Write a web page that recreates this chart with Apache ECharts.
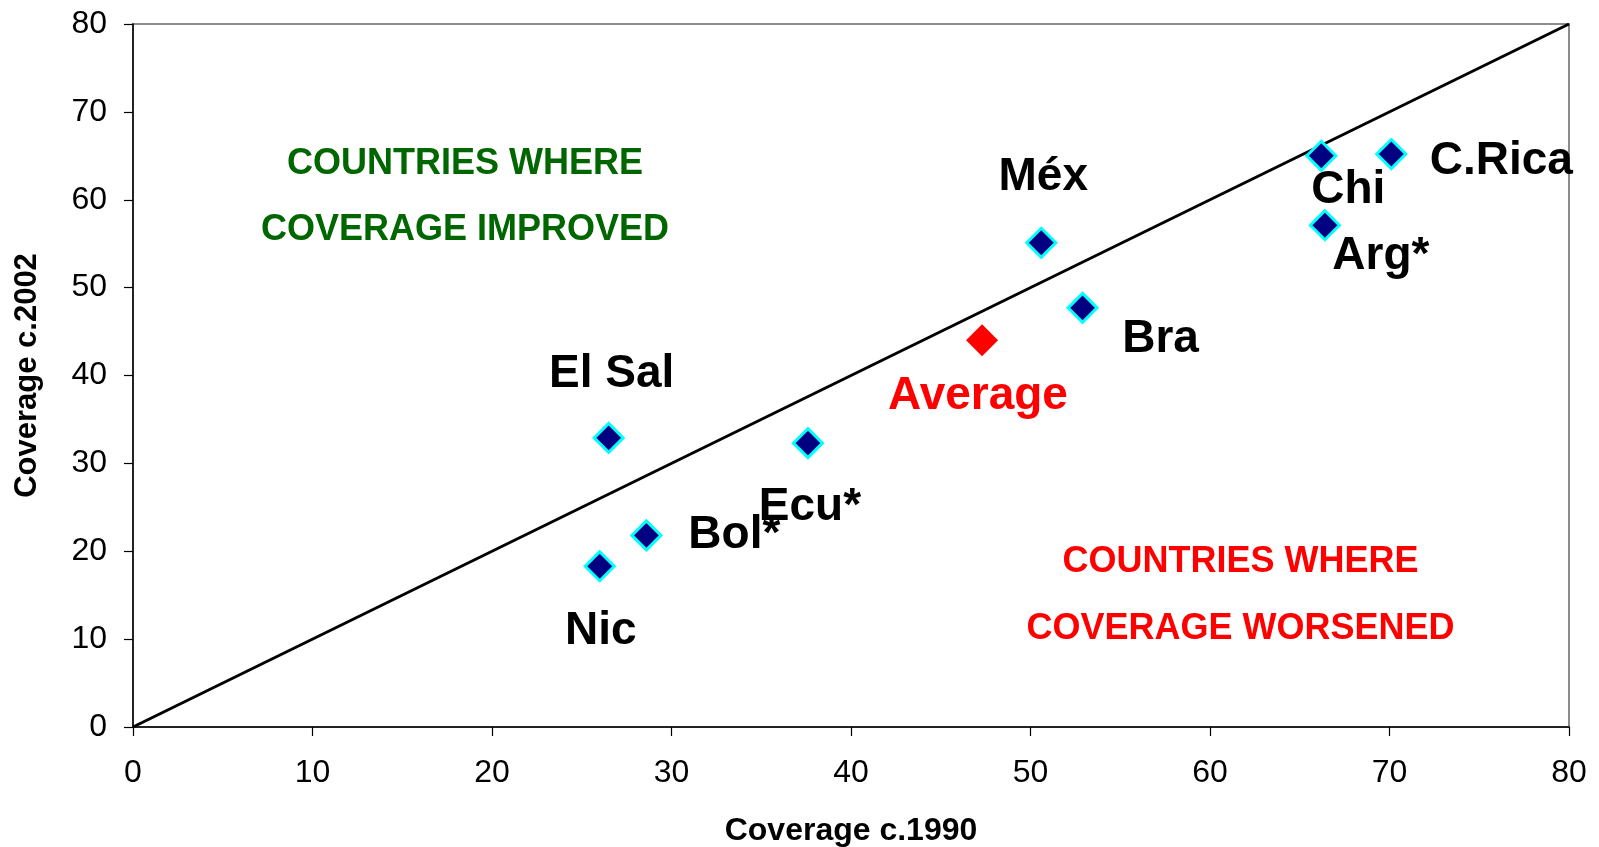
<!DOCTYPE html>
<html>
<head>
<meta charset="utf-8">
<script src="https://cdn.jsdelivr.net/npm/echarts@6/dist/echarts.min.js"></script>
<style>
  html, body { margin: 0; padding: 0; background: #fff; }
  #chart { width: 1599px; height: 847px; }
</style>
</head>
<body>
<div id="chart"></div>
<script>
// data
const countries = ['El Sal', 'Nic', 'Bol*', 'Ecu*', 'Méx', 'Bra', 'Chi', 'C.Rica', 'Arg*']
const cov1990 = [26.5, 26.0, 28.6, 37.6, 50.6, 52.9, 66.2, 70.1, 66.4]
const cov2002 = [32.9, 18.3, 21.8, 32.3, 55.1, 47.7, 65.0, 65.2, 57.1]
const average = [47.3, 44.0]
const diagonal = [[0, 0], [80, 80]]
const ticks = [0, 10, 20, 30, 40, 50, 60, 70, 80]

// label placement (px offsets from the marker), kept apart from the data
const labelOffsets = {
  'El Sal': [3, -64],
  'Nic': [1, 65],
  'Bol*': [88, 0],
  'Ecu*': [2, 64],
  'Méx': [2, -65],
  'Bra': [78, 31],
  'Chi': [27, 34],
  'C.Rica': [110, 7],
  'Arg*': [56, 31],
  'Average': [-4, 56]
}

// corner notes, anchored in data units
const notesImproved = { x: 18.5, lines: ['COUNTRIES WHERE', 'COVERAGE IMPROVED'], y: [64.1, 56.5] }
const notesWorsened = { x: 61.7, lines: ['COUNTRIES WHERE', 'COVERAGE WORSENED'], y: [18.75, 11.1] }

const font = 'Liberation Sans, Arial, sans-serif'

const chart = echarts.init(document.getElementById('chart'))

const countryData = countries.map((name, i) => ({
  name: name,
  value: [cov1990[i], cov2002[i]],
  label: { offset: labelOffsets[name] }
}))

const noteData = (n, color) => n.lines.map((t, i) => ({
  name: t,
  value: [n.x, n.y[i]],
  label: { color: color }
}))

const axisCommon = {
  type: 'value',
  min: ticks[0],
  max: ticks[ticks.length - 1],
  interval: ticks[1] - ticks[0],
  splitLine: { show: false },
  axisLine: { show: true, lineStyle: { color: '#000', width: 1.5 } },
  axisTick: { show: true, inside: false, length: 9, lineStyle: { color: '#000', width: 1.2 } },
  nameLocation: 'middle',
  nameTextStyle: { fontFamily: font, fontWeight: 'bold', fontSize: 31, color: '#000' }
}

const option = {
  backgroundColor: '#fff',
  animation: false,
  grid: {
    left: 133, right: 30, top: 24, bottom: 120,
    outerBoundsMode: 'none',
    containLabel: false,
    show: true,
    borderColor: '#8c8c8c',
    borderWidth: 2,
    backgroundColor: 'transparent'
  },
  xAxis: Object.assign({}, axisCommon, {
    name: 'Coverage c.1990',
    nameGap: 88,
    nameTextStyle: { fontFamily: font, fontWeight: 'bold', fontSize: 32, color: '#000' },
    axisLabel: { fontFamily: font, fontSize: 32, color: '#000', margin: 30 }
  }),
  yAxis: Object.assign({}, axisCommon, {
    name: 'Coverage c.2002',
    nameGap: 90,
    axisLabel: { fontFamily: font, fontSize: 32, color: '#000', margin: 26 }
  }),
  series: [
    {
      type: 'line',
      data: diagonal,
      symbol: 'none',
      lineStyle: { color: '#000', width: 3 },
      z: 1,
      silent: true
    },
    {
      type: 'scatter',
      data: countryData,
      symbol: 'diamond',
      symbolSize: 29,
      itemStyle: { color: '#000080', borderColor: '#00ffff', borderWidth: 3, opacity: 1 },
      label: {
        show: true,
        position: 'inside',
        formatter: '{b}',
        fontFamily: font,
        fontWeight: 'bold',
        fontSize: 46,
        color: '#000'
      },
      z: 3
    },
    {
      type: 'scatter',
      data: [{ name: 'Average', value: average, label: { offset: labelOffsets['Average'] } }],
      symbol: 'diamond',
      symbolSize: 32,
      itemStyle: { color: '#ff0000', opacity: 1 },
      label: {
        show: true,
        position: 'inside',
        formatter: '{b}',
        fontFamily: font,
        fontWeight: 'bold',
        fontSize: 46,
        color: '#ff0000'
      },
      z: 3
    },
    {
      type: 'scatter',
      data: noteData(notesImproved, '#006600').concat(noteData(notesWorsened, '#ff0000')),
      symbolSize: 0,
      itemStyle: { color: 'transparent', opacity: 1 },
      label: {
        show: true,
        position: 'inside',
        formatter: '{b}',
        fontFamily: font,
        fontWeight: 'bold',
        fontSize: 36
      },
      silent: true,
      z: 2
    }
  ]
}

chart.setOption(option)
</script>
</body>
</html>
